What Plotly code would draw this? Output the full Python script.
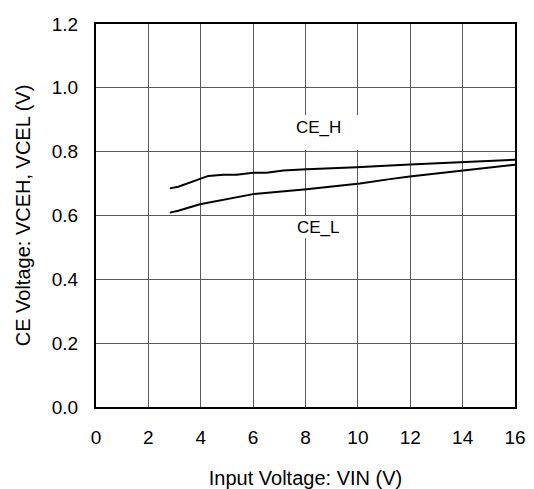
import plotly.graph_objects as go

# Data
vin_h = [2.82, 3.14, 4.29, 4.86, 5.37, 6.0, 6.51, 7.15, 8.04, 9.95, 11.98, 14.02, 16.0]
vceh = [0.685, 0.690, 0.724, 0.728, 0.728, 0.734, 0.734, 0.741, 0.745, 0.751, 0.760, 0.767, 0.775]
vin_l = [2.82, 3.14, 3.97, 5.11, 6.0, 8.04, 10.08, 11.22, 11.98, 14.02, 16.0]
vcel = [0.609, 0.615, 0.635, 0.654, 0.667, 0.682, 0.700, 0.714, 0.722, 0.741, 0.759]

x_ticks = [0, 2, 4, 6, 8, 10, 12, 14, 16]
y_ticks = [0.0, 0.2, 0.4, 0.6, 0.8, 1.0, 1.2]
y_ticklabels = ["0.0", "0.2", "0.4", "0.6", "0.8", "1.0", "1.2"]

FONT = "Liberation Sans, Arial, sans-serif"

fig = go.Figure()
fig.add_trace(go.Scatter(x=vin_h, y=vceh, mode="lines", name="CE_H",
                         line=dict(color="black", width=2)))
fig.add_trace(go.Scatter(x=vin_l, y=vcel, mode="lines", name="CE_L",
                         line=dict(color="black", width=2)))

# white label backgrounds that hide the grid
fig.add_shape(type="rect", x0=6.72, x1=10.39, y0=0.805, y1=0.915, layer="between",
              line=dict(width=0), fillcolor="white")
fig.add_shape(type="rect", x0=7.56, x1=9.47, y0=0.529, y1=0.598, layer="between",
              line=dict(width=0), fillcolor="white")

fig.add_annotation(x=8.5, y=0.877, text="CE_H", showarrow=False,
                   font=dict(family=FONT, size=17, color="black"))
fig.add_annotation(x=8.48, y=0.561, text="CE_L", showarrow=False,
                   font=dict(family=FONT, size=17, color="black"))

# the page has an 8px body margin, so the figure is shifted by 8px
fig.update_layout(
    width=526, height=481,
    margin=dict(l=88, r=19, t=16, b=82),
    paper_bgcolor="white", plot_bgcolor="white",
    showlegend=False,
    font=dict(family=FONT, size=19, color="black"),
)
fig.update_xaxes(
    range=[0, 16], tickvals=x_ticks, ticks="", showgrid=True,
    gridcolor="#5a5a5a", gridwidth=1, showline=True, linecolor="black",
    linewidth=2, mirror=True, zeroline=False, ticklabelstandoff=12,
    automargin=False,
    title=dict(text="Input Voltage: VIN (V)", font=dict(size=20), standoff=26),
    tickfont=dict(size=19),
)
fig.update_yaxes(
    range=[0, 1.2], tickvals=y_ticks, ticktext=y_ticklabels, ticks="",
    showgrid=True, gridcolor="#5a5a5a", gridwidth=1, showline=True,
    linecolor="black", linewidth=2, mirror=True, zeroline=False,
    ticklabelstandoff=12, automargin=False,
    title=dict(text="CE Voltage: VCEH, VCEL (V)", font=dict(size=20), standoff=16),
    tickfont=dict(size=19),
)

fig.write_html("out.html")
